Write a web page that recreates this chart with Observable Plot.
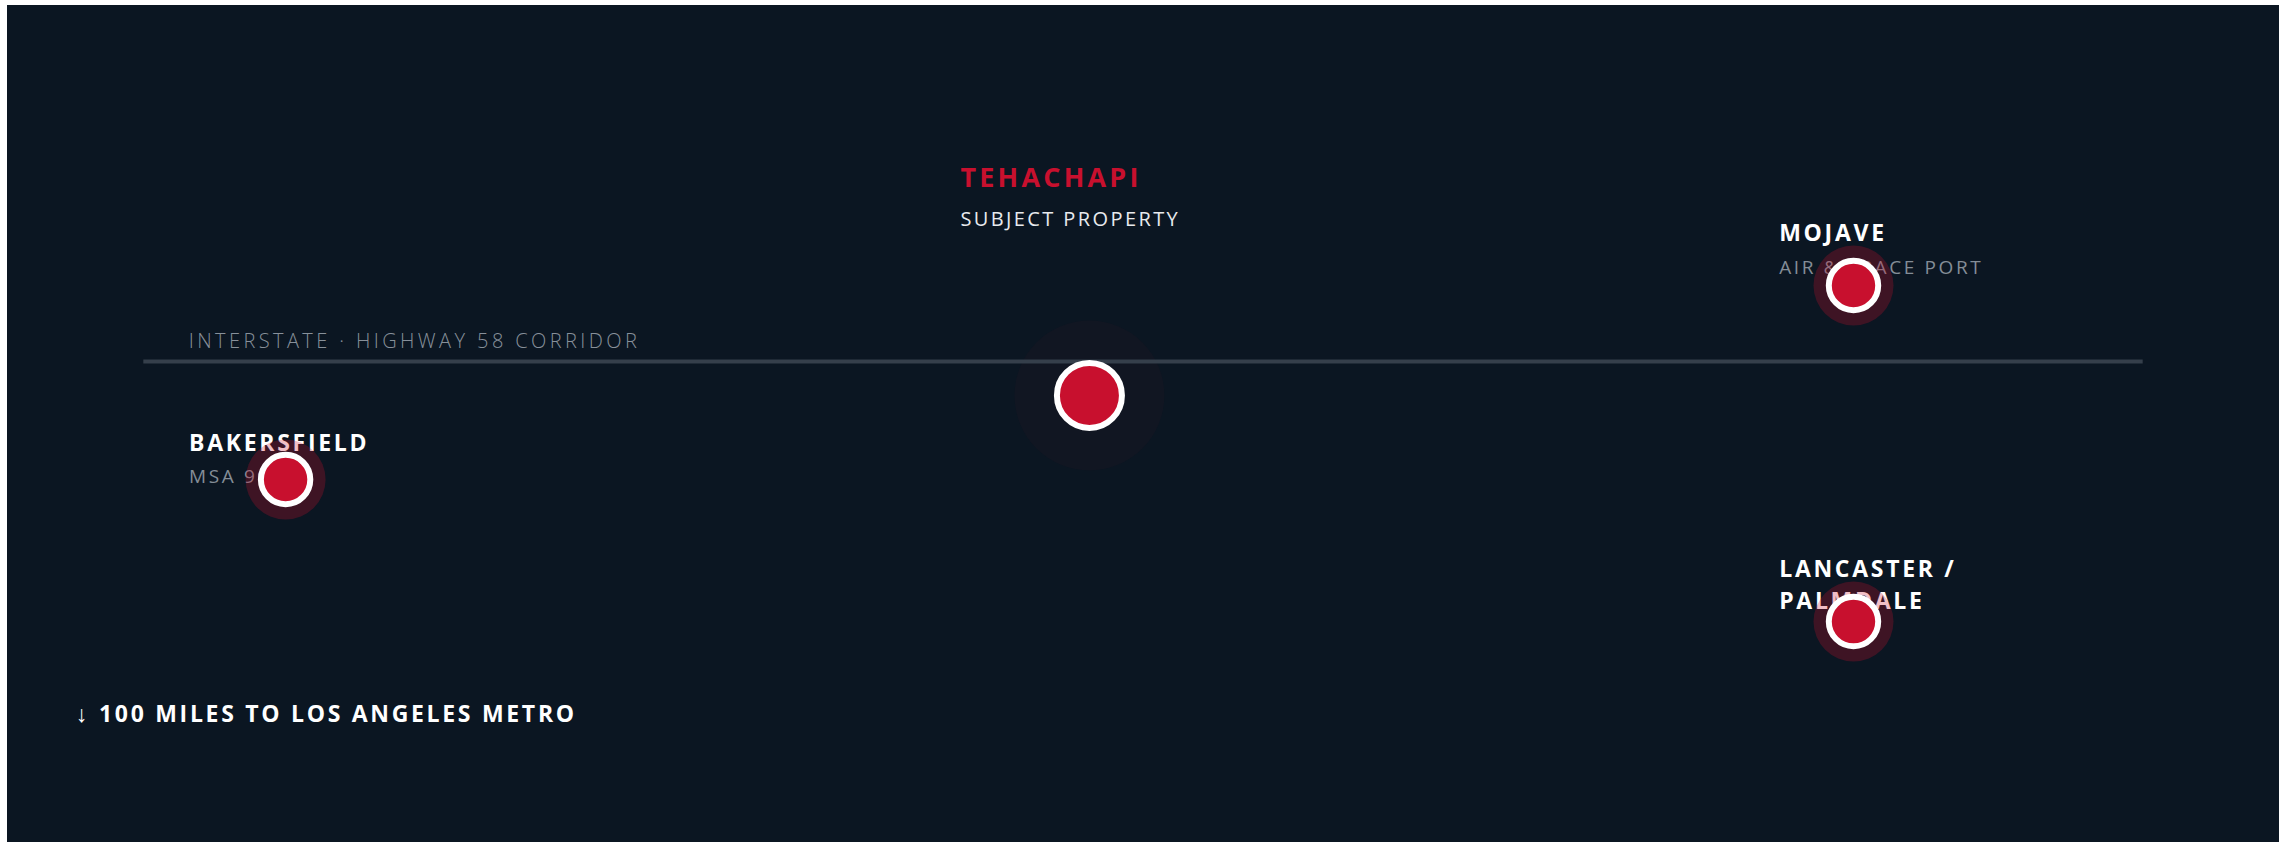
<!DOCTYPE html>
<html>
<head>
<meta charset="utf-8">
<script src="https://cdn.jsdelivr.net/npm/d3@7"></script>
<script src="https://cdn.jsdelivr.net/npm/@observablehq/plot@0.6"></script>
<style>
  html, body { margin: 0; padding: 0; background: #ffffff; overflow: hidden; }
  #frame { position: absolute; left: 7px; top: 5px; width: 2272px; height: 900px; background: #0b1622; }
  #frame svg { display: block; overflow: visible; background: transparent; }
  .ls-subject text { letter-spacing: 3.2px; }
  .ls-subjectsub text { letter-spacing: 2.4px; }
  .ls-title text { letter-spacing: 2.7px; }
  .ls-sub text { letter-spacing: 2.6px; }
  .ls-corridor text { letter-spacing: 3.4px; }
  .ls-foot text { letter-spacing: 2.7px; }
</style>
</head>
<body>
<div id="frame"></div>
<script>
// ---- data (schematic map, positions in percent of the frame) ----
const cities         = ["Tehachapi", "Mojave", "Bakersfield", "Lancaster / Palmdale"];
const cityTitles     = ["TEHACHAPI", "MOJAVE", "BAKERSFIELD", "LANCASTER /\nPALMDALE"];
const citySubtitles  = ["SUBJECT PROPERTY", "AIR & SPACE PORT", "MSA 900K", ""];
const cityX          = [47.62, 81.25, 12.24, 81.25];
const cityY          = [46.59, 33.45, 56.63, 73.60];
const labelX         = [41.94, 77.98, 7.99, 77.98];
const labelY         = [21.71, 28.16, 53.17, 72.16];
const isSubject      = [true, false, false, false];

const corridorLabel  = "INTERSTATE · HIGHWAY 58 CORRIDOR";
const corridorSpan   = [6.0, 94.0];
const corridorY      = 42.53;
const corridorLabelX = 7.98;
const corridorLabelY = 40.90;

const footnote       = "↓ 100 MILES TO LOS ANGELES METRO";
const footnoteX      = 3.02;
const footnoteY      = 85.63;

// ---- build table ----
const data = cities.map((name, i) => ({
  name, title: cityTitles[i], subtitle: citySubtitles[i],
  x: cityX[i], y: cityY[i], lx: labelX[i], ly: labelY[i], subject: isSubject[i]
}));
const subject = data.filter(d => d.subject);
const others = data.filter(d => !d.subject);

const RED = "#c8102e";
const FONT = "'Open Sans', 'Noto Sans', sans-serif";

const chart = Plot.plot({
  width: 2272,
  height: 837,
  margin: 0,
  style: { background: "transparent", overflow: "visible" },
  x: { domain: [0, 100], axis: null },
  y: { domain: [0, 100], reverse: true, axis: null },
  marks: [
    // faint glow around subject property
    Plot.dot(subject, { x: "x", y: "y", r: 75, fill: RED, fillOpacity: 0.035, stroke: null }),
    // corridor line
    Plot.ruleY([corridorY], { x1: corridorSpan[0], x2: corridorSpan[1], stroke: "#353f4b", strokeWidth: 4 }),
    Plot.text([corridorLabel], {
      x: () => corridorLabelX, y: () => corridorLabelY, text: d => d,
      textAnchor: "start", lineAnchor: "bottom", fill: "#87909a",
      fontSize: 20, fontWeight: 300, fontFamily: FONT, className: "ls-corridor"
    }),
    // subject labels
    Plot.text(subject, {
      x: "lx", y: "ly", text: "title", textAnchor: "start", lineAnchor: "bottom",
      fill: RED, fontSize: 27, fontWeight: 700, fontFamily: FONT, className: "ls-subject"
    }),
    Plot.text(subject, {
      x: "lx", y: "ly", text: "subtitle", dy: 38.6, textAnchor: "start", lineAnchor: "bottom",
      fill: "#e8eaee", fontSize: 20, fontWeight: 400, fontFamily: FONT, className: "ls-subjectsub"
    }),
    // other city labels
    Plot.text(others, {
      x: "lx", y: "ly", text: "title", textAnchor: "start", lineAnchor: "bottom", lineHeight: 1.4,
      fill: "#ffffff", fontSize: 23, fontWeight: 700, fontFamily: FONT, className: "ls-title"
    }),
    Plot.text(others.filter(d => d.subtitle), {
      x: "lx", y: "ly", text: "subtitle", dy: 32.7, textAnchor: "start", lineAnchor: "bottom",
      fill: "#848d97", fontSize: 19, fontWeight: 400, fontFamily: FONT, className: "ls-sub"
    }),
    // halos for other cities
    Plot.dot(others, { x: "x", y: "y", r: 40, fill: RED, fillOpacity: 0.27, stroke: null }),
    // city markers
    Plot.dot(others, { x: "x", y: "y", r: 24.7, fill: RED, stroke: "#ffffff", strokeWidth: 6 }),
    Plot.dot(subject, { x: "x", y: "y", r: 32.5, fill: RED, stroke: "#ffffff", strokeWidth: 6 }),
    // footnote
    Plot.text([footnote], {
      x: () => footnoteX, y: () => footnoteY, text: d => d,
      textAnchor: "start", lineAnchor: "bottom", fill: "#ffffff",
      fontSize: 23, fontWeight: 700, fontFamily: FONT, className: "ls-foot"
    })
  ]
});

document.getElementById("frame").appendChild(chart);
</script>
</body>
</html>
